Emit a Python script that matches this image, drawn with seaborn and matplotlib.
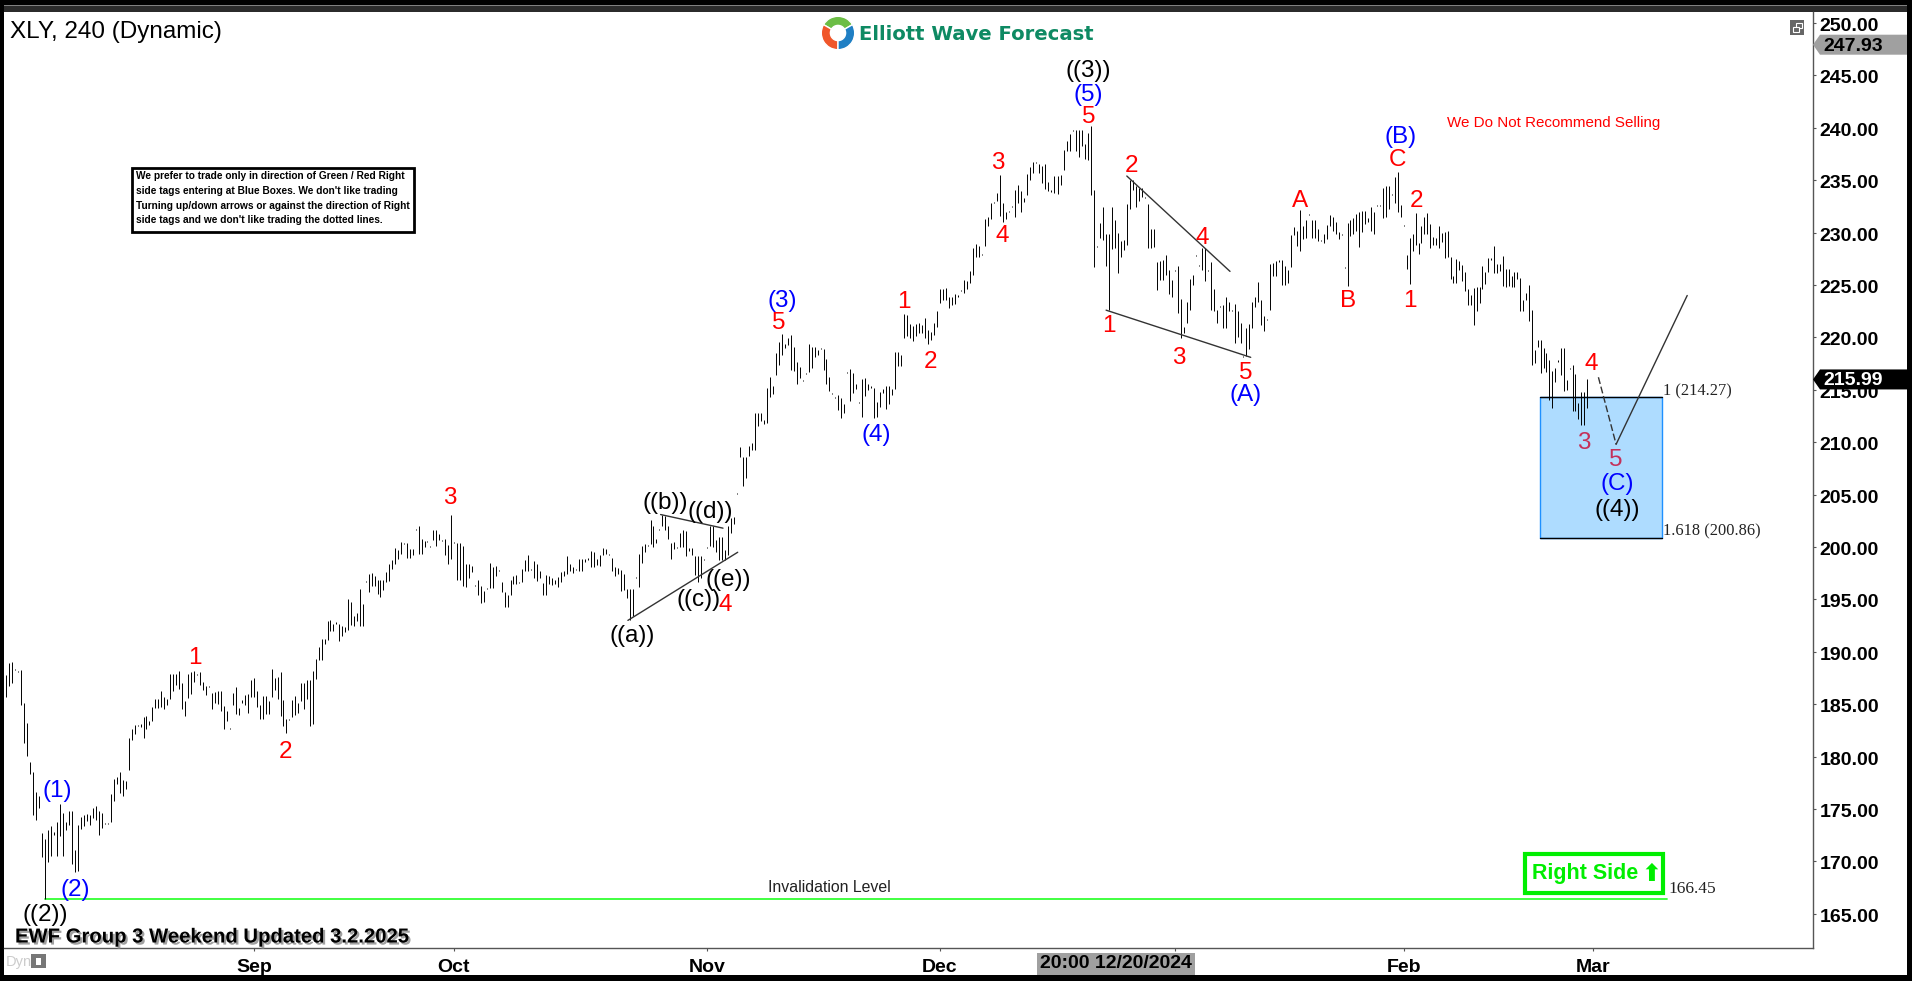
import numpy as np
import pandas as pd
import seaborn as sns
import matplotlib
matplotlib.use("Agg")
import matplotlib.pyplot as plt
import matplotlib.patheffects as pe
from matplotlib.patches import Rectangle, Polygon
from matplotlib.transforms import ScaledTranslation

# ---------- data: (high, low) per bar, month by month ----------
aug_bars = [(187.8,185.7),(188.9,186.7),(189.0,187.0),(188.4,188.3),(188.2,188.1),(188.3,184.9),(185.1,181.3),(183.2,180.1),
(179.5,178.3),(178.5,174.4),(176.6,174.0),(176.2,175.1),(172.7,170.4),(172.1,166.45),(173.0,169.9),(173.4,170.5),(172.8,172.5),
(173.8,170.5),(175.5,172.4),(174.6,170.5),(173.8,173.0),(174.8,173.5),(174.8,169.8),(171.1,169.0),(173.5,169.1),(174.2,173.1),
(174.4,173.4),(174.5,173.9),(174.4,173.5),(175.1,174.1),(175.3,174.0),(174.8,172.5),(174.6,173.2),(173.7,173.6),(173.7,173.6),
(176.4,173.8),(177.9,175.8),(178.1,177.4),(178.5,176.5),(177.8,176.2),(177.7,176.9),(181.8,178.7),(182.6,181.6),(183.0,182.2),
(183.0,182.9),(183.1,182.8),(183.8,181.8),(183.9,182.6),(183.4,183.0),(184.7,183.4),(185.5,184.6),(185.5,184.6),(186.3,184.7),
(185.7,184.5),(185.5,184.9),(187.9,185.5),(187.9,186.3),(187.9,186.8),(188.2,186.5),(187.0,184.5),(185.3,183.9),(187.9,185.6),
(188.1,186.0),(188.2,187.1),(187.9,187.8),(188.1,186.8),(187.1,186.4),(186.7,185.9),(186.7,186.6),(186.1,184.5),(186.2,185.1),
(186.3,185.0),(186.3,184.4),(184.8,182.6),(184.4,183.4),(182.7,182.6),(186.1,184.9),(186.6,184.1),(184.6,184.0),(185.4,185.1),
(185.9,184.9),(186.0,184.2),(187.3,185.7)]
sep_bars = [(187.5,185.7),(186.3,184.7),(184.9,183.6),(185.8,183.6),(185.8,184.1),(185.3,184.1),(188.4,185.7),(187.5,186.4),
(187.6,185.5),(188.1,183.9),(185.4,182.9),(183.6,182.3),(183.6,183.5),(185.4,183.8),(185.8,184.0),(185.1,184.2),(187.0,185.3),
(187.0,184.5),(187.3,185.5),(187.3,182.9),(188.2,183.1),(189.3,187.4),(190.5,189.2),(191.2,189.2),(191.2,190.7),(192.9,191.1),
(193.0,192.0),(192.7,192.0),(192.8,192.7),(192.7,191.0),(192.5,191.5),(192.4,191.9),(195.0,192.1),(194.8,192.6),(193.4,192.5),
(193.7,192.9),(196.0,192.5),(194.6,192.5),(196.8,196.7),(197.4,195.7),(197.5,196.3),(197.2,196.3),(196.9,195.5),(196.9,195.2),
(196.9,195.9),(197.6,196.7),(198.4,196.8),(198.8,197.9),(199.9,198.4),(199.7,198.9),(200.5,199.3),(200.4,200.3),(200.4,199.0),
(199.8,199.0),(199.8,199.2),(201.7,201.6),(202.0,199.3),(200.8,199.3),(200.6,200.0),(200.6,200.5),(200.1,200.0),(201.6,200.7),
(201.6,200.1),(201.2,200.7),(200.7,200.6),(200.8,199.2),(200.2,198.4),(203.1,198.9)]
oct_bars = [(200.5,200.4),(200.4,196.9),(200.4,196.9),(200.1,196.3),(198.4,196.2),(198.4,197.0),(198.2,197.6),(196.4,196.3),
(196.9,195.4),(196.3,194.7),(195.8,194.8),(196.1,196.0),(198.5,196.1),(198.1,196.1),(198.2,197.2),(197.8,197.7),(196.7,195.7),
(195.7,194.3),(195.4,194.3),(196.9,195.4),(197.2,196.5),(197.3,196.5),(196.7,196.6),(197.9,196.7),(198.8,197.7),(199.2,197.7),
(197.9,197.8),(198.7,197.0),(198.4,196.8),(197.7,197.0),(196.6,195.4),(197.3,195.4),(197.2,196.5),(197.0,196.4),(196.9,196.5),
(197.1,196.2),(197.6,196.7),(197.7,197.2),(199.1,197.4),(198.4,197.7),(198.1,197.5),(197.9,197.8),(198.9,197.7),(198.9,197.7),
(198.9,198.6),(199.0,198.8),(199.6,198.1),(199.5,198.1),(198.9,198.3),(199.2,198.2),(199.9,199.2),(199.8,199.3),(199.3,199.2),
(199.0,197.7),(198.1,197.2),(198.0,197.4),(197.8,195.8),(197.4,195.9),(196.0,195.1),(196.0,193.0),(196.0,193.4),(197.1,197.0),
(199.3,196.2),(200.1,198.5),(200.3,199.5),(200.2,200.1),(202.6,200.3),(202.0,200.0),(200.8,200.4),(201.7,201.6),(203.1,202.0),
(203.0,201.6),(202.0,200.8),(200.4,198.9),(200.5,199.8),(200.0,199.9),(201.3,200.0),(201.6,200.0),(201.5,199.1),(199.9,199.6),
(199.9,199.2),(199.1,197.3),(199.1,196.7),(199.1,197.0),(198.9,198.8)]
nov_bars = [(200.0,199.9),(202.0,200.1),(202.0,200.0),(200.7,199.5),(201.0,198.8),(201.0,198.8),(199.7,198.8),(202.0,199.2),
(202.8,201.3),(202.9,202.2),(205.2,205.1),(209.5,208.6),(208.6,205.8),(208.6,206.6),(209.6,208.7),(209.9,209.3),(212.8,209.3),
(212.8,211.5),(212.8,212.0),(212.1,211.7),(215.2,211.8),(216.2,214.3),(215.4,214.6),(218.5,216.4),(219.6,217.4),(220.3,218.3),
(219.4,219.0),(219.9,219.3),(220.2,216.9),(219.1,216.8),(217.7,215.6),(217.2,216.1),(215.9,215.8),(216.6,216.5),(219.4,216.7),
(219.1,217.1),(219.1,218.1),(218.8,218.3),(219.0,218.9),(218.9,216.9),(217.9,215.6),(216.2,214.9),(214.7,214.6),(214.3,214.2),
(214.5,213.1),(214.2,212.3),(213.6,212.8),(216.7,216.6),(217.0,213.9),(216.6,214.7),(215.6,215.1),(213.8,213.7),(216.0,212.4),
(216.1,214.4),(215.6,215.0),(215.4,215.2),(215.2,212.3),(213.8,212.4),(214.8,213.4),(215.1,214.7),(215.4,213.2),(215.4,213.6),
(215.1,214.5),(218.6,215.1),(218.6,217.3),(218.3,217.3),(222.2,219.9),(222.1,220.1),(221.3,219.9),(221.1,219.7),(221.3,220.1),
(221.4,220.4),(221.2,220.4),(221.9,219.9),(220.7,219.4),(220.5,219.8),(221.4,220.2),(222.5,221.0)]
dec_bars = [(224.6,223.3),(224.6,223.6),(224.7,223.6),(223.9,222.8),(223.9,223.1),(224.1,223.2),(224.0,223.9),(224.5,224.4),
(225.5,224.2),(225.4,224.6),(226.3,225.2),(228.5,226.0),(228.9,227.7),(228.7,227.7),(228.0,227.9),(231.3,228.7),(231.5,230.6),
(232.8,231.3),(232.9,232.8),(233.8,233.0),(235.5,231.6),(232.8,231.0),(232.0,231.3),(232.1,232.0),(232.5,232.4),(234.1,231.5),
(234.5,232.8),(234.0,232.0),(233.3,232.9),(235.6,233.6),(236.3,235.0),(236.7,235.7),(236.7,236.6),(236.5,235.7),(236.4,234.7),
(236.5,234.2),(234.8,234.0),(234.1,233.9),(235.4,233.8),(235.4,233.7),(235.5,234.5),(237.9,236.0),(238.7,237.8),(239.4,237.8),
(239.8,239.7),(239.8,237.8),(239.8,237.2),(239.8,238.3),(238.5,237.0),(239.5,236.9),(240.2,233.6),(234.1,226.7),(228.7,228.6),
(230.9,229.5),(232.4,229.3),(229.9,226.8),(229.9,222.6),(232.4,228.4),(231.2,228.5),(230.0,226.1),(229.2,227.7),(229.3,228.3),
(232.7,228.8),(235.0,232.3),(235.0,234.1),(234.4,232.4),(234.3,233.0),(234.3,233.4),(233.4,233.3),(232.7,228.5),(230.3,228.5),
(230.3,228.6),(227.2,224.5),(227.3,225.5),(227.4,225.5),(227.9,226.0),(226.4,224.1),(225.5,223.9)]
jan_bars = [(226.4,226.3),(226.8,222.3),(223.7,219.9),(221.0,220.4),(223.4,221.4),(225.6,222.6),(226.0,225.0),(227.9,227.8),
(226.9,226.8),(228.5,226.4),(228.5,225.4),(226.4,226.3),(227.2,222.6),(224.6,222.5),(222.6,221.4),(223.0,222.9),(223.1,220.9),
(223.9,220.9),(223.4,222.5),(222.6,222.5),(223.2,219.5),(222.5,220.0),(221.4,219.5),(218.2,218.1),(220.9,218.2),(221.3,218.9),
(223.4,220.9),(223.9,222.9),(225.3,223.4),(223.6,221.2),(222.0,220.6),(221.8,221.7),(227.0,222.6),(227.1,225.9),(227.3,225.9),
(227.4,227.2),(227.4,225.0),(226.8,225.0),(226.4,225.2),(229.8,226.7),(230.5,229.8),(230.2,228.7),(232.2,228.2),(230.6,229.4),
(231.2,229.5),(231.8,231.7),(231.2,229.5),(231.2,229.5),(230.3,229.2),(229.3,229.2),(229.9,229.0),(230.7,229.4),(231.7,230.6),
(231.5,230.2),(231.0,229.9),(230.1,229.4),(229.9,229.8),(226.7,226.6),(230.9,224.9),(231.2,229.7),(231.4,229.9),(231.8,230.2),
(232.0,228.6),(232.1,230.1),(232.1,230.8),(231.4,231.0),(232.4,230.2),(232.0,229.9),(232.6,232.5),(232.6,232.5),(234.3,231.4),
(234.4,231.5),(234.4,232.3),(233.7,233.6),(235.3,232.8),(235.8,232.0),(232.6,231.5)]
feb_bars = [(230.7,230.6),(227.9,226.5),(229.5,225.1),(229.9,228.2),(231.9,228.8),(229.0,228.0),(230.6,229.0),(231.5,229.9),
(231.9,229.9),(230.8,228.5),(229.6,228.8),(229.5,228.8),(230.6,228.5),(230.0,229.1),(230.1,227.6),(230.2,227.7),(227.7,225.6),
(225.9,225.2),(227.5,225.2),(227.3,226.4),(226.9,225.4),(226.2,224.4),(224.6,223.1),(224.0,223.1),(224.7,221.2),(224.8,222.5),
(224.8,223.3),(226.8,224.6),(226.2,225.1),(227.6,226.2),(227.6,227.4),(228.7,226.1),(227.0,226.1),(227.0,226.3),(227.8,224.9),
(226.5,224.8),(226.5,224.9),(225.9,224.8),(226.2,224.8),(226.2,225.6),(225.7,222.5),(223.6,222.5),(224.2,223.6),(225.0,221.6),
(222.6,217.4),(218.8,217.6),(219.8,219.1),(219.8,216.6),(219.0,217.1),(218.5,216.7),(217.8,214.0),(216.8,213.3),(217.1,215.7),
(217.8,217.7),(219.0,216.4),(219.0,214.9),(215.9,215.0),(217.1,217.0),(217.4,213.0),(216.5,213.0),(213.7,212.2),(214.8,211.6),
(214.8,211.6),(216.0,213.3)]

months = ["Sep", "Oct", "Nov", "Dec", "", "Feb", "Mar"]
month_bars = [82.7, 149.3, 233.7, 311.3, 389.7, 466.0, 529.0]
segments = [aug_bars, sep_bars, oct_bars, nov_bars, dec_bars, jan_bars, feb_bars]
segment_edges = [0.0, 82.7, 149.3, 233.7, 311.3, 389.7, 466.0, 528.0]
price_ticks = list(range(165, 251, 5))

labels_red = [("1",63,189.6),("2",93,180.6),("3",148,204.9),("4",239.7,194.7),("5",257.7,221.6),("1",299.3,223.6),
              ("2",308.3,217.8),("3",330.7,236.8),("4",332,229.9),("5",360.8,241.2),("2",375.3,236.5),("1",367.7,221.3),
              ("3",391,218.2),("4",398.7,229.7),("5",413.3,216.8),("A",431.3,233.2),("B",447.3,223.7),("C",463.7,237.1),
              ("2",470,233.2),("1",468,223.7),("4",528.3,217.7)]
labels_crimson = [("3",526,210.1),("5",536.7,208.5)]
labels_blue = [("(1)",17,176.9),("(2)",23.2,167.5),("(3)",258.7,223.7),("(4)",290,210.9),("(5)",360.8,243.3),
               ("(A)",413.3,214.7),("(B)",464.7,239.3),("(C)",537,206.2)]
labels_black = [("((2))",13,165.1),("((a))",208.6,191.7),("((b))",219.7,204.4),("((d))",234.7,203.5),("((e))",240.8,197.0),
                ("((c))",230.8,195.1),("((3))",360.8,245.6),("((4))",537,203.7)]
trendlines = [((207.3,243.9),(193.0,199.5)), ((218.2,239.0),(203.1,201.8)),
              ((373.6,408.0),(235.4,226.3)), ((366.7,414.9),(222.6,218.1))]
projection_dash = ((530.8,536.7),(216.2,209.8))
projection_up = ((536.7,560.4),(209.8,224.0))
box_bars = (511.3, 551.9)
box_prices = (200.86, 214.27)
invalidation = 166.45
invalidation_bars = (13, 553.7)
last_price, last_mark = 215.99, 247.93

# ---------- layout ----------
W, H = 1912, 981
fx = lambda x: x / W
fy = lambda y: 1 - y / H

sns.set_theme(style="white")
FONT = "Liberation Sans"
plt.rcParams["font.family"] = [FONT, "DejaVu Sans"]

fig = plt.figure(figsize=(W/100, H/100), dpi=100, facecolor="black")

def frect(x0, y0, x1, y1, **kw):
    r = Rectangle((fx(x0), fy(y1)), (x1-x0)/W, (y1-y0)/H, transform=fig.transFigure, **kw)
    fig.add_artist(r)
    return r

frect(4, 5, 1907, 12, fc="#2b2b2b", ec="none", zorder=-5)
frect(4, 5, 1907, 6, fc="#808080", ec="none", zorder=-4)
frect(4, 12, 1907, 975, fc="white", ec="none", zorder=-5)

ax = fig.add_axes([fx(4), fy(948), (1813-4)/W, (948-12)/H])
ax.patch.set_alpha(0)

rows = []
for seg, a, b in zip(segments, segment_edges[:-1], segment_edges[1:]):
    xs = np.linspace(a, b, len(seg), endpoint=False)
    for x, (hi, lo) in zip(xs, seg):
        rows.append((x, hi))
        rows.append((x, lo))
df = pd.DataFrame(rows, columns=["bar", "price"])

# invalidation line and box below the bars
ax.plot(invalidation_bars, (invalidation, invalidation), color="#33ff33", lw=1.3, zorder=2)
ax.add_patch(Rectangle((box_bars[0], box_prices[0]), box_bars[1]-box_bars[0], box_prices[1]-box_prices[0],
                       fc="#aedcff", ec="#1e90ff", lw=1, zorder=2.5))
ax.plot(box_bars, (box_prices[1], box_prices[1]), color="black", lw=1, zorder=2.6)
ax.plot(box_bars, (box_prices[0], box_prices[0]), color="black", lw=1, zorder=2.6)

sns.lineplot(data=df, x="bar", y="price", units="bar", estimator=None, sort=False,
             color="black", lw=0.7, ax=ax, legend=False, zorder=3, solid_capstyle="butt")

for xs, ys in trendlines:
    ax.plot(xs, ys, color="#333333", lw=1.0, zorder=4)
ax.plot(*projection_dash, color="#333333", lw=1.0, ls=(0, (5, 2)), zorder=6)
ax.plot(*projection_up, color="#333333", lw=1.0, zorder=6)

ax.set_xlim(-2/3, 602.33)
ax.set_ylim(161.74, 251.05)
ax.set_xlabel("")
ax.set_ylabel("")
ax.yaxis.tick_right()
ax.set_yticks(price_ticks)
ax.set_yticklabels([f"{p:.2f}" for p in price_ticks], fontsize=14, fontweight="bold", color="black")
ax.set_xticks(month_bars)
ax.set_xticklabels(months, fontsize=14, fontweight="bold", color="black")
ax.tick_params(axis="y", which="major", right=True, left=False, length=2.2, width=0.8, color="#555555", pad=2.5)
ax.tick_params(axis="x", which="major", bottom=True, length=2.2, width=0.8, color="#555555", pad=5.5)
down = ScaledTranslation(0, -1.5/100, fig.dpi_scale_trans)
for lab in ax.get_yticklabels():
    lab.set_transform(lab.get_transform() + down)
for s in ("left", "top"):
    ax.spines[s].set_visible(False)
for s in ("right", "bottom"):
    ax.spines[s].set_color("#555555")
    ax.spines[s].set_linewidth(1.0)

# ---------- wave labels ----------
for group, col in ((labels_red, "#ff0000"), (labels_crimson, "#c4305a"), (labels_blue, "#0000ff"), (labels_black, "black")):
    for t, x, y in group:
        ax.text(x, y - 0.19, t, color=col, fontsize=17.5, ha="center", va="center", zorder=7, family=FONT)

# ---------- other text ----------
fig.text(fx(10), fy(32), "XLY, 240 (Dynamic)", fontsize=17.5, color="black", va="center", ha="left")
fig.text(fx(1447), fy(123), "We Do Not Recommend Selling", fontsize=10.9, color="#ff0000", va="center", ha="left")
fig.text(fx(829), fy(888), "Invalidation Level", fontsize=11.4, color="#222222", va="center", ha="center")
fig.text(fx(1663), fy(391), "1 (214.27)", fontsize=11.8, family="Liberation Serif", color="#222222", va="center")
fig.text(fx(1663), fy(531), "1.618 (200.86)", fontsize=11.8, family="Liberation Serif", color="#222222", va="center")
fig.text(fx(1668), fy(889), "166.45", fontsize=12.5, family="Liberation Serif", color="#222222", va="center")

fig.text(fx(15), fy(937), "EWF Group 3 Weekend Updated 3.2.2025", fontsize=14.6, fontweight="bold", color="black", va="center",
         path_effects=[pe.withSimplePatchShadow(offset=(1.5, -1.5), shadow_rgbFace="#888888", alpha=0.8)])
fig.text(fx(6), fy(962), "Dyn", fontsize=10.5, color="#cccccc", va="center")
frect(31, 954, 46, 968, fc="#777777", ec="none")
frect(36, 958, 41, 965, fc="white", ec="none")

# notice box
frect(132, 168, 414, 232, fc="white", ec="black", lw=2)
notice = ["We prefer to trade only in direction of Green / Red Right",
          "side tags entering at Blue Boxes. We don't like trading",
          "Turning up/down arrows or against the direction of Right",
          "side tags and we don't like trading the dotted lines."]
for line, y in zip(notice, (176, 191, 206, 220)):
    fig.text(fx(136), fy(y), line, fontsize=7.3, fontweight="bold", color="black", va="center")

# Right Side tag
frect(1525, 854, 1663, 893, fc="white", ec="#00ee00", lw=3)
fig.text(fx(1532), fy(874), "Right Side", fontsize=15.5, fontweight="bold", color="#00ee00", va="center")
fig.text(fx(1651), fy(874), "\u2b06", fontsize=17, family="DejaVu Sans", fontweight="bold", color="#00ee00", va="center", ha="center")

# logo
fig.text(fx(859), fy(35), "Elliott Wave Forecast", fontsize=14.1, fontweight="bold", family="DejaVu Sans", color="#0e8a63", va="center")
lax = fig.add_axes([fx(819), fy(52), 38/W, 38/H])
lax.pie([1, 1, 1], colors=["#6cbd45", "#f0562a", "#1f7fc4"], startangle=30, radius=1.1,
        wedgeprops=dict(width=0.6, edgecolor="white", linewidth=1))
lax.set_aspect("equal")

# restore-window icon
frect(1790, 20, 1804, 35, fc="#666666", ec="none")
frect(1796, 23, 1802, 28, fc="none", ec="white", lw=0.8)
frect(1793, 27, 1799, 32, fc="#666666", ec="white", lw=0.8)

# price tags on right axis
ytr = ax.get_yaxis_transform()
xa = lambda px: (px - 4) / 1809
for price, fc, tc in ((last_mark, "#a0a0a0", "black"), (last_price, "black", "white")):
    dy = 10 / 10.48
    ax.add_patch(Polygon([(1.0, price), (xa(1820), price+dy), (xa(1907), price+dy), (xa(1907), price-dy), (xa(1820), price-dy)],
                         closed=True, transform=ytr, fc=fc, ec="none", clip_on=False, zorder=10))
    ax.text(xa(1823), price - 0.14, f"{price:.2f}", transform=ytr, color=tc, fontsize=14, fontweight="bold", va="center", ha="left",
            zorder=11, clip_on=False)

# crosshair date box
frect(1037, 953, 1195, 975, fc="#a0a0a0", ec="none", zorder=12)
fig.text(fx(1116), fy(964), "20:00 12/20/2024", fontsize=14, fontweight="bold", color="black", ha="center", va="center", zorder=13)

fig.savefig("out.png", dpi=100, facecolor="black")
